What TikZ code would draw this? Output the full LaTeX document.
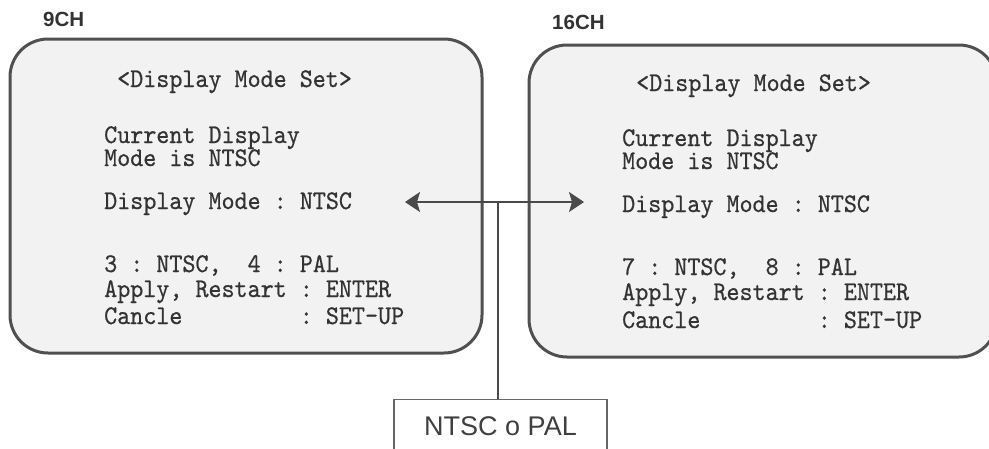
\documentclass[tikz,border=0pt]{standalone}
\usepackage{fontspec}
\setmainfont{Liberation Sans}
\newfontfamily\osdfont{lmmono10-regular.otf}[FakeStretch=0.92,FakeBold=0.6]
\usetikzlibrary{arrows.meta}
\definecolor{frameC}{HTML}{505050}
\definecolor{lineC}{HTML}{4A4A4A}
\definecolor{txtC}{HTML}{333333}
\definecolor{screenC}{HTML}{F2F2F2}
\tikzset{
  screen/.style={draw=frameC, line width=3pt, fill=screenC, rounded corners=38pt},
  osd/.style={anchor=base west, inner sep=0pt, text=txtC,
    font=\osdfont\fontsize{27}{27}\selectfont},
  chlabel/.style={anchor=base west, inner sep=0pt, text=black!80,
    font=\bfseries\fontsize{20.5}{20.5}\selectfont},
  conn/.style={draw=lineC, line width=1.6pt},
  biarrow/.style={conn, {Stealth[length=15pt,width=20pt,inset=3pt]}-{Stealth[length=15pt,width=20pt,inset=3pt]}},
  selbox/.style={draw=black!60, line width=1.4pt, fill=white, anchor=north,
    minimum width=213pt, minimum height=52pt, inner sep=0pt, text=black!75,
    font=\fontsize{27}{27}\selectfont}
}
\begin{document}
\begin{tikzpicture}[x=1pt,y=-1pt]
\path[use as bounding box, clip] (0,0) rectangle (989,448);
\fill[white] (0,0) rectangle (989,448);

% channel labels
\node[chlabel] (lab9) at (43,26) {9CH};
\node[chlabel] (lab16) at (552,29) {16CH};

% screens
\path[screen] (10,39) rectangle (482,353);
\path[screen] (529,45) rectangle (997,357);

% left screen text
\node[osd] (t9) at (117,87) {<Display~Mode~Set>};
\node[osd] (c9a) at (104,143) {Current~Display};
\node[osd] (c9b) at (104,166) {Mode~is~NTSC};
\node[osd] (dm9) at (104,209) {Display~Mode~:~NTSC};
\node[osd] (o9) at (104,272) {3~:~NTSC,~~4~:~PAL};
\node[osd] (a9) at (104,297) {Apply,~Restart~:~ENTER};
\node[osd] (k9) at (104,324) {Cancle~~~~~~~~~:~SET-UP};

% right screen text
\node[osd] (t16) at (636,91) {<Display~Mode~Set>};
\node[osd] (c16a) at (622,146) {Current~Display};
\node[osd] (c16b) at (622,169) {Mode~is~NTSC};
\node[osd] (dm16) at (622,212) {Display~Mode~:~NTSC};
\node[osd] (o16) at (622,275) {7~:~NTSC,~~8~:~PAL};
\node[osd] (a16) at (622,300) {Apply,~Restart~:~ENTER};
\node[osd] (k16) at (622,328) {Cancle~~~~~~~~~:~SET-UP};

% connectors
\coordinate (tipL) at (405,202);
\coordinate (tipR) at (584,202);
\coordinate (junction) at (498,202);
\node[selbox] (sel) at (500.5,399) {NTSC o PAL};
\draw[biarrow] (tipL) -- (tipR);
\draw[conn] (junction) -- (junction |- sel.north);
\end{tikzpicture}
\end{document}
